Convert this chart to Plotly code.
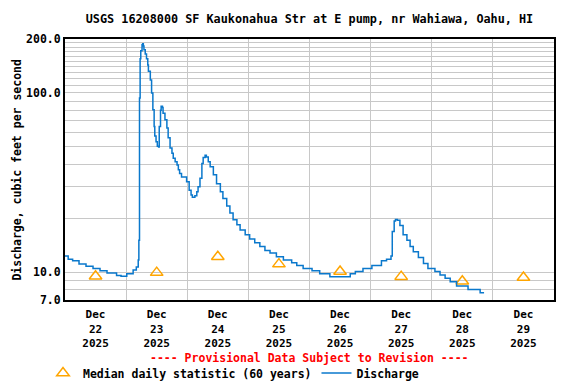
import plotly.graph_objects as go

# Discharge readings (cubic feet per second)
flow_times = [
    "2025-12-22 00:00", "2025-12-22 01:15", "2025-12-22 03:00", "2025-12-22 05:30",
    "2025-12-22 08:15", "2025-12-22 11:00", "2025-12-22 13:45", "2025-12-22 16:30",
    "2025-12-22 20:15", "2025-12-22 22:00", "2025-12-23 00:15", "2025-12-23 02:45",
    "2025-12-23 04:00", "2025-12-23 04:45", "2025-12-23 05:00", "2025-12-23 05:15",
    "2025-12-23 05:30", "2025-12-23 05:45", "2025-12-23 06:15", "2025-12-23 06:30",
    "2025-12-23 06:45", "2025-12-23 07:00", "2025-12-23 07:30", "2025-12-23 08:00",
    "2025-12-23 08:30", "2025-12-23 08:45", "2025-12-23 09:30", "2025-12-23 10:00",
    "2025-12-23 10:30", "2025-12-23 11:00", "2025-12-23 11:15", "2025-12-23 11:45",
    "2025-12-23 12:15", "2025-12-23 12:45", "2025-12-23 13:00", "2025-12-23 13:30",
    "2025-12-23 13:45", "2025-12-23 14:15", "2025-12-23 14:30", "2025-12-23 15:15",
    "2025-12-23 16:00", "2025-12-23 16:30", "2025-12-23 17:15", "2025-12-23 18:00",
    "2025-12-23 18:30", "2025-12-23 19:15", "2025-12-23 20:00", "2025-12-23 20:30",
    "2025-12-23 21:00", "2025-12-23 21:45", "2025-12-23 23:45", "2025-12-24 00:45",
    "2025-12-24 01:30", "2025-12-24 02:00", "2025-12-24 03:00", "2025-12-24 03:45",
    "2025-12-24 04:15", "2025-12-24 05:00", "2025-12-24 05:45", "2025-12-24 06:15",
    "2025-12-24 07:00", "2025-12-24 07:30", "2025-12-24 08:15", "2025-12-24 09:00",
    "2025-12-24 10:15", "2025-12-24 11:30", "2025-12-24 13:00", "2025-12-24 14:00",
    "2025-12-24 15:30", "2025-12-24 16:45", "2025-12-24 18:00", "2025-12-24 19:30",
    "2025-12-24 20:45", "2025-12-24 22:45", "2025-12-25 00:30", "2025-12-25 02:30",
    "2025-12-25 04:30", "2025-12-25 06:30", "2025-12-25 08:30", "2025-12-25 11:00",
    "2025-12-25 13:45", "2025-12-25 17:00", "2025-12-25 19:00", "2025-12-25 21:30",
    "2025-12-26 01:00", "2025-12-26 04:00", "2025-12-26 08:00", "2025-12-26 16:00",
    "2025-12-26 18:00", "2025-12-26 21:00", "2025-12-27 00:30", "2025-12-27 04:15",
    "2025-12-27 06:15", "2025-12-27 08:00", "2025-12-27 08:30", "2025-12-27 09:15",
    "2025-12-27 09:45", "2025-12-27 10:30", "2025-12-27 11:30", "2025-12-27 12:45",
    "2025-12-27 14:15", "2025-12-27 15:30", "2025-12-27 16:45", "2025-12-27 18:45",
    "2025-12-27 20:45", "2025-12-27 22:30", "2025-12-28 01:15", "2025-12-28 03:15",
    "2025-12-28 05:15", "2025-12-28 07:15", "2025-12-28 09:45", "2025-12-28 14:15",
    "2025-12-28 19:00", "2025-12-28 20:15",
]
flow_values = [
    12.3, 11.8, 11.6, 11.1,
    10.8, 10.5, 10.2, 9.9,
    9.6, 9.5, 9.8, 10.3,
    10.7, 11.7, 15.1, 93.6,
    155, 172, 186, 188,
    183, 174, 165, 155,
    143, 132, 118, 100,
    80.5, 65, 57.6, 53.5,
    50.5, 50, 65, 80,
    84.4, 83, 77, 70.8,
    63.8, 56.2, 49.3, 46.1,
    43.2, 41.3, 39.6, 37.3,
    35.5, 34, 32, 28.7,
    27, 26.2, 26.7, 28.1,
    30, 33.4, 40.4, 43.6,
    45, 44, 41.3, 38.8,
    35, 31.2, 28.1, 25.8,
    23.4, 21.4, 19.6, 18.4,
    17.2, 16.2, 15.3, 14.6,
    13.9, 13.2, 12.8, 12.2,
    11.7, 11.3, 10.9, 10.5,
    10.2, 9.8, 9.45, 9.8,
    10.1, 10.5, 10.9, 11.6,
    11.8, 12.3, 16.9, 19.3,
    19.7, 19.5, 18.2, 16.2,
    15.1, 13.9, 13.0, 12.1,
    11.2, 10.5, 10.1, 9.66,
    9.26, 8.86, 8.38, 8.02,
    7.69, 7.6,
]

# Median daily statistic (60 years)
median_dates = [
    "2025-12-22 12:00", "2025-12-23 12:00", "2025-12-24 12:00", "2025-12-25 12:00",
    "2025-12-26 12:00", "2025-12-27 12:00", "2025-12-28 12:00", "2025-12-29 12:00",
]
median_values = [9.5, 9.95, 12.2, 11.1, 10.1, 9.45, 8.9, 9.35]

tick_dates = median_dates
tick_labels = [f"Dec<br>{d}<br>2025" for d in range(22, 30)]

grid_values = [7, 8, 9, 10, 20, 30, 40, 50, 60, 70, 80, 90, 100,
               110, 120, 130, 140, 150, 160, 170, 180, 190, 200]
labelled = {7: "7.0", 10: "10.0", 100: "100.0", 200: "200.0"}
grid_text = [labelled.get(v, "") for v in grid_values]

FONT = "DejaVu Sans Mono"
SIZE = 11.5

# the page body adds an 8px margin, so the figure is sized to fit inside the window
W, H = 568, 376

fig = go.Figure()

fig.add_trace(go.Scatter(
    x=median_dates,
    y=median_values,
    mode="markers",
    name="Median daily statistic (60 years)",
    marker=dict(symbol="triangle-up-open", size=11, color="#ffa500",
                line=dict(width=1.5, color="#ffa500")),
))

fig.add_trace(go.Scatter(
    x=flow_times,
    y=flow_values,
    mode="lines",
    name="Discharge",
    line=dict(color="#0a78cc", width=1.5, shape="hv"),
))

fig.update_xaxes(
    type="date",
    range=["2025-12-22", "2025-12-30"],
    tickvals=tick_dates,
    ticktext=tick_labels,
    ticks="",
    ticklabelstandoff=3,
    showgrid=False,
    minor=dict(tick0="2025-12-22", dtick=86400000, showgrid=True,
               gridcolor="#c8c8c8", gridwidth=1, ticks=""),
    showline=True, mirror=True, linecolor="black", linewidth=2,
    tickfont=dict(family=FONT, size=11, color="black", weight="bold"),
    automargin=False,
)

fig.update_yaxes(
    type="log",
    range=[0.845098, 2.30103],
    tickvals=grid_values,
    ticktext=grid_text,
    ticks="",
    showgrid=True, gridcolor="#c8c8c8", gridwidth=1,
    showline=True, mirror=True, linecolor="black", linewidth=2,
    tickfont=dict(family=FONT, size=SIZE, color="black", weight="bold"),
    automargin=False,
)

fig.add_annotation(
    text="Discharge, cubic feet per second",
    xref="paper", yref="paper", x=-0.1, y=0.5, textangle=-90,
    xanchor="center", yanchor="middle", showarrow=False,
    font=dict(family=FONT, size=SIZE, color="black", weight="bold"),
)

fig.add_annotation(
    text="---- Provisional Data Subject to Revision ----",
    xref="paper", yref="paper", x=0.5, y=-0.222,
    xanchor="center", yanchor="middle", showarrow=False,
    font=dict(family=FONT, size=SIZE, color="red", weight="bold"),
)

fig.update_layout(
    width=W, height=H,
    margin=dict(l=57, r=22, t=31, b=84, autoexpand=False),
    paper_bgcolor="white", plot_bgcolor="white",
    title=dict(text="USGS 16208000 SF Kaukonahua Str at E pump, nr Wahiawa, Oahu, HI",
               x=0.5, xref="paper", y=1 - 11 / H, yref="container", yanchor="middle",
               font=dict(family=FONT, size=11.8, color="black", weight="bold"),
               automargin=False),
    showlegend=True,
    legend=dict(orientation="h", xref="container", yref="container",
                x=35 / W, y=1 - 365 / H, xanchor="left", yanchor="middle",
                font=dict(family=FONT, size=SIZE, color="black", weight="bold"),
                itemwidth=30, tracegroupgap=0, bgcolor="rgba(0,0,0,0)"),
    hovermode="x unified",
)

fig.write_html("out.html")
